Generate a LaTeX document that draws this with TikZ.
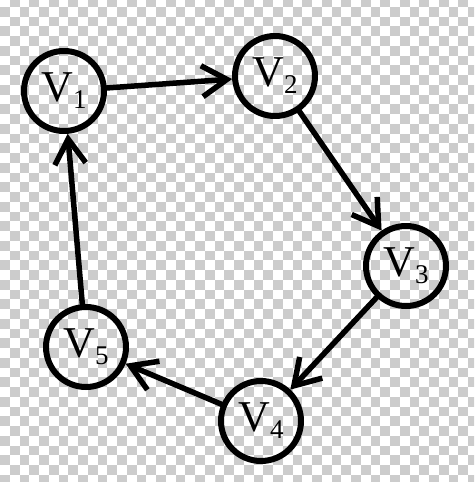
\documentclass[tikz,border=0pt]{standalone}
\usepackage{fontspec}
\setmainfont{Liberation Serif}
\usetikzlibrary{arrows.meta}
\definecolor{chkgray}{RGB}{204,204,204}
\newcommand{\vname}[1]{V\raisebox{-0.35ex}{\fontsize{27}{27}\selectfont #1}}
\begin{document}
\begin{tikzpicture}[x=1pt, y=-1pt, line join=round, line cap=round,
	>={Straight Barb[length=25pt,width=31pt]},
	vert/.style={draw, circle, line width=6pt, minimum size=80pt, inner sep=0pt, font=\fontsize{44}{44}\selectfont},
	arc/.style={->, line width=5.5pt}]
	\def\w{474} \def\h{482} \def\s{9.75} % size, square
	\useasboundingbox (0,0) rectangle (\w,\h);
	\fill[white] (0,0) rectangle (\w,\h);
	\begin{scope}
		\clip (0,0) rectangle (\w,\h);
		\foreach \i in {0,...,48}{\foreach \j in {0,...,50}{\ifodd\numexpr\i+\j\relax
			\fill[chkgray] (\i*\s,\j*\s-3) rectangle +(\s,\s);\fi}}
	\end{scope}
	% vertices
	\node[vert] (v1) at (64,91) {\vname{1}};
	\node[vert] (v2) at (275,76) {\vname{2}};
	\node[vert] (v3) at (406,266) {\vname{3}};
	\node[vert] (v4) at (261,421) {\vname{4}};
	\node[vert] (v5) at (86,347) {\vname{5}};
	% cycle
	\draw[arc] (v1)--(v2);
	\draw[arc] (v2)--(v3);
	\draw[arc] (v3)--(v4);
	\draw[arc] (v4)--(v5);
	\draw[arc] (v5)--(v1);
\end{tikzpicture}
\end{document}
